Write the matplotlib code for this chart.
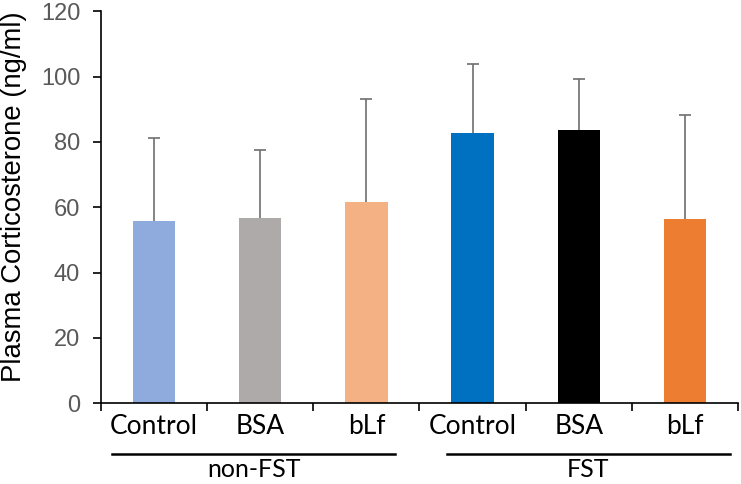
import matplotlib
matplotlib.use("Agg")
import matplotlib.pyplot as plt
import matplotlib.transforms as mtransforms
import numpy as np

# ── data ──
categories = ["Control", "BSA", "bLf", "Control", "BSA", "bLf"]
means = [55.7, 56.7, 61.7, 82.8, 83.6, 56.3]
upper_err = [25.4, 20.8, 31.4, 21.2, 15.6, 32.0]
groups = ["non-FST", "FST"]
bar_colors = ["#8FAADC", "#AEAAAA", "#F4B183", "#0070C0", "#000000", "#ED7D31"]
y_ticks = [0, 20, 40, 60, 80, 100, 120]

fig = plt.figure(figsize=(7.41, 4.84), dpi=100)
ax = fig.add_axes([101 / 741, 1 - 403.3 / 484, 637 / 741, 392 / 484])

x = np.arange(len(categories))
ax.bar(x, means, width=0.4, color=bar_colors, zorder=2)
# only the upper whisker + cap, like the Excel original
_, caps, _ = ax.errorbar(x, means, yerr=[np.zeros(len(means)), upper_err], fmt="none",
                         ecolor="#6E6E6E", elinewidth=1.2, capsize=4, capthick=1.2,
                         zorder=3)
caps[0].set_visible(False)

ax.set_xlim(-0.5, len(categories) - 0.5)
ax.set_ylim(0, 120)
ax.set_yticks(y_ticks)
ax.tick_params(axis="y", labelsize=17, labelcolor="#595959", length=6, width=1.2,
               direction="out", pad=9)
for lab in ax.get_yticklabels():
    lab.set_family("Liberation Sans")

# category labels on major ticks (no marks), separators on minor ticks
ax.set_xticks(x)
ax.set_xticklabels(categories, family="Lato", fontsize=19)
ax.set_xticks(np.arange(-0.5, len(categories), 1.0), minor=True)
ax.tick_params(axis="x", which="major", length=0, pad=8)
ax.tick_params(axis="x", which="minor", length=6, width=1.2, direction="out")

for side in ["top", "right"]:
    ax.spines[side].set_visible(False)
for side in ["left", "bottom"]:
    ax.spines[side].set_linewidth(1.2)
    ax.spines[side].set_color("black")

# group brackets under the category labels
trans = mtransforms.blended_transform_factory(ax.transData, ax.transAxes)
spans = [(-0.396, 2.27), (2.76, 5.42)]
for name, (x0, x1) in zip(groups, spans):
    ax.plot([x0, x1], [-0.129, -0.129], color="black", lw=1.8, transform=trans,
            clip_on=False)
    ax.text(np.mean([x0, x1]), -0.187, name, transform=trans, ha="center",
            va="baseline", family="Lato", fontsize=18)

fig.text(14 / 741, 1 - 197 / 484, "Plasma Corticosterone (ng/ml)", rotation=90,
         ha="center", va="center", family="Liberation Sans", fontsize=19.8)

fig.savefig("out.png", dpi=100, facecolor="white")
